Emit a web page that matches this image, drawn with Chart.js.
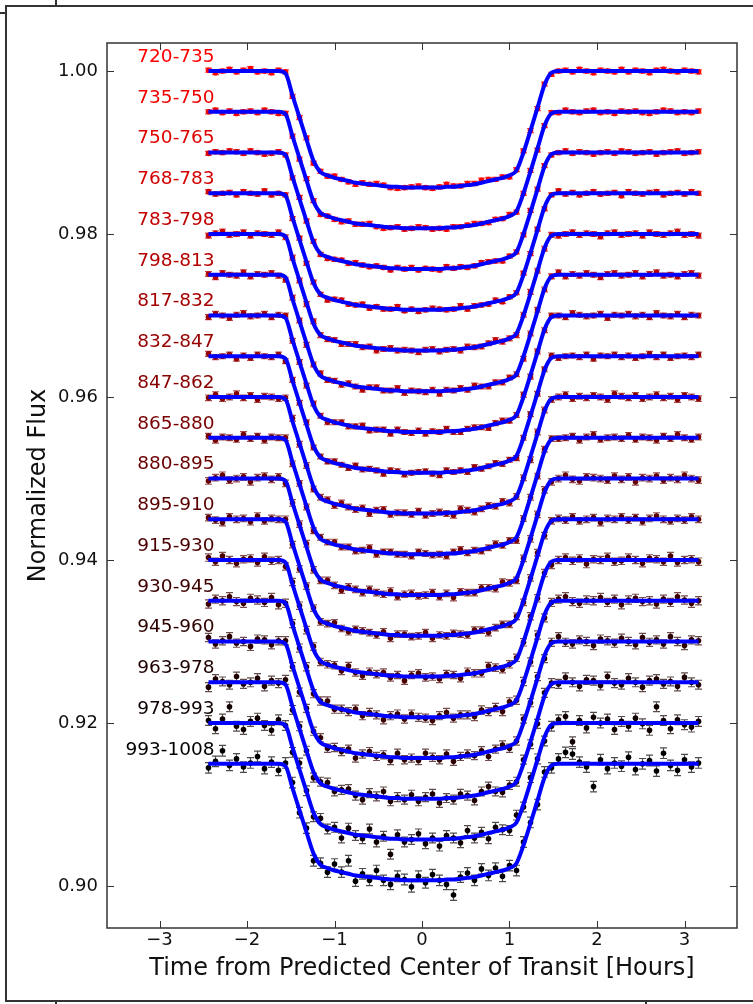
<!DOCTYPE html>
<html>
<head>
<meta charset="utf-8">
<script src="https://cdn.jsdelivr.net/npm/chart.js@4.4.1/dist/chart.umd.min.js"></script>
<style>
  html, body { margin: 0; padding: 0; background: #fff; }
  #wrap { position: relative; width: 753px; height: 1004px; overflow: hidden; background: #fff; }
  #chart { position: absolute; left: 0; top: 0; }
  .rule { position: absolute; background: #333; }
</style>
</head>
<body>
<div id="wrap">
  <canvas id="chart" width="753" height="1004"></canvas>
  <!-- page frame around the figure -->
  <div class="rule" style="left:5px; top:5px; width:748px; height:1.5px;"></div>
  <div class="rule" style="left:5px; top:5px; width:1.5px; height:996px;"></div>
  <div class="rule" style="left:5px; top:1000px; width:748px; height:1.5px;"></div>
  <div class="rule" style="left:0; top:12px; width:5px; height:1.5px;"></div>
  <div class="rule" style="left:55px; top:0; width:1.5px; height:5px;"></div>
  <div class="rule" style="left:55px; top:1000px; width:1.5px; height:4px;"></div>
  <div class="rule" style="left:645px; top:1000px; width:1.5px; height:4px;"></div>
</div>
<script>
/* ─── Data ─────────────────────────────────────────────────────── */

const curveLabels = [
    '720-735', '735-750', '750-765', '768-783', '783-798', '798-813',
    '817-832', '832-847', '847-862', '865-880', '880-895', '895-910',
    '915-930', '930-945', '945-960', '963-978', '978-993', '993-1008'
];

// flux level of each light curve outside transit
const baselines = [
    1.000, 0.995, 0.990, 0.985, 0.980, 0.975,
    0.970, 0.965, 0.960, 0.955, 0.950, 0.945,
    0.940, 0.935, 0.930, 0.925, 0.920, 0.915
];

const curveColors = [
    '#ff0000', '#f00000', '#e10000', '#d20000', '#c30000', '#b40000',
    '#a50000', '#960000', '#870000', '#780000', '#690000', '#5a0000',
    '#4b0000', '#3c0000', '#2d0000', '#1e0000', '#0f0000', '#000000'
];

// error bar half-length per curve, in 1e-4 flux
const errors = [2.5, 2.5, 2.5, 2.5, 3, 3, 3, 3, 3.5, 3.5, 4, 4, 4.5, 5, 5, 5.5, 6, 6.5];

// observation times [hours]
const times = [
    -2.44, -2.36, -2.28, -2.20, -2.12, -2.04, -1.96, -1.88, -1.80, -1.72,
    -1.64, -1.56, -1.48, -1.40, -1.32, -1.24, -1.16, -1.08, -1.00, -0.92,
    -0.84, -0.76, -0.68, -0.60, -0.52, -0.44, -0.36, -0.28, -0.20, -0.12,
    -0.04, 0.04, 0.12, 0.20, 0.28, 0.36, 0.44, 0.52, 0.60, 0.68,
    0.76, 0.84, 0.92, 1.00, 1.08, 1.16, 1.24, 1.32, 1.40, 1.48,
    1.56, 1.64, 1.72, 1.80, 1.88, 1.96, 2.04, 2.12, 2.20, 2.28,
    2.36, 2.44, 2.52, 2.60, 2.68, 2.76, 2.84, 2.92, 3.00, 3.08,
    3.16
];

// transit model below the baseline at each time, in 1e-4 flux
const modelDip = [
    0, 0, 0, 0, 0, 0, 0, 0, 0, 0,
    0, -3, -30, -57, -84, -110, -124, -128, -131, -133,
    -135, -137, -138, -139, -140, -141, -142, -142, -143, -143,
    -143, -143, -143, -143, -142, -142, -141, -140, -139, -137,
    -135, -133, -131, -128, -122, -100, -73, -45, -17, -2,
    0, 0, 0, 0, 0, 0, 0, 0, 0, 0,
    0, 0, 0, 0, 0, 0, 0, 0, 0, 0,
    0
];

// measured minus model, in 1e-4 flux (one row per curve)
const residuals = [
    [1,-2,0,2,-1,1,3,-1,0,-2, 1,2,-1,0,2,-3,1,-1,2,0, -1,-2,1,0,2,1,-1,-2,0,1, 2,0,-1,1,3,1,0,2,1,3, 2,0,1,-2,1,2,0,-1,1,-2, 0,1,-1,2,0,-2,1,0,-1,2, -1,1,0,-2,1,2,0,-1,1,0, -1],
    [0,2,-1,1,-2,0,1,-1,2,0, -2,1,0,-1,2,1,-2,0,-1,-2, 1,-1,0,2,-1,-2,0,1,-1,0, 2,1,-1,0,-2,1,0,1,2,0, -1,1,0,2,-1,0,1,-2,0,1, -1,2,0,-1,1,2,-1,0,-2,1, 0,1,-1,-2,0,2,1,-1,0,-1, 1],
    [-1,1,0,2,1,-1,2,0,-2,-1, 1,0,-1,2,0,1,-1,-2,0,1, -1,2,0,-1,1,0,-2,1,0,2, -1,1,0,-1,2,0,1,-1,0,2, 1,0,-2,1,0,-1,2,0,1,-1, 0,2,-1,1,0,-2,0,1,-1,2, 1,-1,0,1,-2,0,1,2,-1,0, 1],
    [2,-1,0,1,-2,2,0,-1,3,-2, 0,1,-1,2,-2,1,0,-3,1,2, -1,0,2,-2,1,-1,0,3,-1,1, -2,0,2,1,-1,0,3,-2,1,0, -1,2,-2,1,0,2,-1,1,-2,0, 3,-1,1,-2,0,2,-1,0,1,-3, 2,0,-1,1,2,-2,0,1,-1,2, 0],
    [-2,1,3,-1,0,2,-2,1,0,-1, 2,-1,1,0,-2,3,0,-1,1,-2, 0,2,-1,1,-3,0,2,-1,1,0, -2,1,2,-1,0,1,-2,2,0,-1, 1,3,-1,0,-2,1,2,0,-1,1, -2,0,2,-1,1,0,-3,1,2,-1, 0,1,-2,2,0,-1,1,3,-1,0, -2],
    [1,-3,2,0,-1,3,-2,1,0,2, -1,-3,2,1,-2,0,3,-1,1,-2, 2,0,-3,1,2,-1,0,3,-2,1, 0,-1,2,-3,1,0,2,-1,3,0, -2,1,-1,2,0,-3,1,2,-1,0, 3,-2,1,-1,2,0,-3,1,2,-1, 0,2,-2,1,3,-1,0,-2,1,2, -1],
    [-2,2,0,-3,1,3,-1,0,2,-2, 1,3,-1,0,-2,2,1,-3,0,2, -1,1,3,-2,0,1,-3,2,0,-1, 2,-2,1,0,3,-1,-2,1,2,0, -3,1,2,-1,0,3,-2,1,-1,2, 0,-2,3,1,-1,0,2,-3,1,0, 2,-1,1,-2,3,0,-1,2,-2,1, 0],
    [3,-1,0,2,-3,1,-2,2,0,-1, 2,-3,1,0,3,-2,1,-1,2,0, -2,3,-1,1,0,-3,2,1,-2,0, 1,2,-1,-3,2,0,1,-2,3,-1, 0,2,-1,1,-3,0,2,-1,1,3, -2,0,1,-1,2,-3,1,0,2,-1, 1,-2,0,3,-1,2,-2,0,1,-1, 2],
    [-1,3,-2,0,4,-1,2,-3,1,0, -2,2,4,-1,0,-3,1,2,-2,3, 0,-1,2,-4,1,3,-2,0,1,-1, 3,-2,0,2,-1,-3,4,1,-2,0, 2,-1,3,-2,0,1,-4,2,1,-1, 0,3,-2,1,-1,2,0,-3,4,1, -1,2,-2,0,3,-1,1,-3,2,0, -2],
    [2,-3,1,0,-2,4,-1,2,-3,1, 0,3,-2,1,-1,-4,2,0,3,-1, 1,-2,0,4,-3,1,2,-1,0,-2, 3,1,-1,0,-3,2,4,-1,1,-2, 0,3,-1,2,-4,1,0,-2,3,1, -1,0,2,-3,1,4,-2,0,1,-1, 3,-2,1,0,-3,2,-1,4,0,-2, 1],
    [-3,1,4,-2,0,2,-4,1,3,-1, 2,-3,0,1,4,-2,-1,3,0,-4, 2,1,-2,3,0,-1,4,-3,1,2, -1,0,3,-2,1,-4,2,0,-1,3, 1,-2,4,0,-3,2,-1,1,3,-2, 0,4,-1,-3,2,1,0,-2,3,-1, 2,-4,1,0,3,-2,1,-1,4,0, -2],
    [2,-1,-4,3,0,1,-3,4,-2,1, 0,3,-1,-4,2,1,-2,0,4,-1, -3,2,1,0,-2,3,-4,1,2,-1, 0,4,-3,1,-1,2,0,-2,3,1, -4,0,2,-1,3,-2,1,4,-3,0, 1,-1,3,-2,0,2,-4,1,0,3, -1,2,-3,1,4,0,-2,1,-1,3, 0],
    [3,-2,5,0,-4,1,2,-3,4,-1, 0,-5,3,1,-2,4,-1,0,2,-3, 5,-1,-4,2,0,3,-2,1,-5,2, 4,-1,0,-3,2,1,-4,3,0,-2, 5,1,-3,0,2,-1,4,-2,1,-4, 0,3,-1,2,-5,1,0,4,-2,-1, 3,0,-4,2,1,-2,5,-3,0,1, -2],
    [-4,2,0,5,-1,-3,3,1,-2,4, -5,0,2,-1,3,-4,1,5,-2,0, -1,4,-3,2,0,-5,1,3,-2,4, 0,-1,-4,2,5,-2,1,0,-3,3, -1,2,-5,4,0,1,-2,3,-4,0, 2,5,-1,-3,1,0,4,-2,2,-5, 1,3,-1,0,-4,2,-2,5,1,-3, 0],
    [5,-3,1,6,-2,0,-6,3,2,-4, 1,4,-1,-5,2,0,6,-3,1,-2, 3,-6,0,4,-1,2,-4,5,-2,0, -3,6,1,-2,4,-5,0,2,-1,3, -6,1,4,-3,0,5,-2,2,-4,1, 6,-1,-3,2,0,-5,3,1,-2,4, 0,-4,5,-1,2,-3,6,0,-5,2, 1],
    [-6,4,1,-3,7,-2,0,5,-5,2, -1,6,-4,3,0,-7,2,5,-3,1, 4,-2,-6,3,0,7,-4,1,-1,5, -3,2,6,-5,0,-2,4,1,-6,3, 7,-1,-4,2,0,5,-3,-6,4,1, -2,6,0,-5,3,2,-4,7,-1,-3, 5,0,-6,2,4,-2,1,-5,6,0, -3],
    [3,-7,5,20,-4,-8,2,6,-3,-9, 4,0,-6,8,1,-5,7,-2,3,-8, 6,-1,-4,9,-6,2,-19,5,-3,0, 7,-5,2,-8,4,1,-6,8,-2,3, -7,5,0,-4,9,-3,6,1,-5,-2, 4,8,-23,3,-6,7,0,5,-8,2, -4,6,-1,-9,20,3,-7,4,-2,-5, 2],
    [-5,3,16,-2,6,-4,1,9,-6,2, -8,4,7,-3,5,-9,2,-5,8,0, 16,-7,3,-4,9,-2,-6,4,1,-8, 5,-3,7,0,-6,-19,2,6,-4,8, -2,5,-7,3,-9,4,1,-5,7,-3, 6,14,12,2,-4,-28,5,-6,1,-3, 8,-7,0,4,-9,13,-2,-8,5,-4, 1]
];

const xTicks = [-3, -2, -1, 0, 1, 2, 3];
const yTicks = [0.90, 0.92, 0.94, 0.96, 0.98, 1.00];

/* ─── Chart ────────────────────────────────────────────────────── */

const FONT = '"DejaVu Sans", "Liberation Sans", sans-serif';
const LABEL_T = -2.37;      // right edge of the curve labels [hours]
const LABEL_DY = 0.0017;    // labels sit a little above their baseline

function withAlpha(hex, a) {
    const n = parseInt(hex.slice(1), 16);
    return `rgba(${n >> 16},${(n >> 8) & 255},${n & 255},${a})`;
}

const datasets = [];
curveLabels.forEach((name, i) => {
    const base = baselines[i];
    datasets.push({
        type: 'line',
        label: name + ' model',
        data: times.map((t, j) => ({ x: t, y: base + modelDip[j] * 1e-4 })),
        borderColor: '#0000ff',
        borderWidth: 4,
        pointRadius: 0,
        cubicInterpolationMode: 'monotone',
        fill: false,
        order: 0,
    });
    datasets.push({
        type: 'scatter',
        label: name,
        data: times.map((t, j) => ({ x: t, y: base + (modelDip[j] + (residuals[i][j] || 0)) * 1e-4 })),
        backgroundColor: curveColors[i],
        borderWidth: 0,
        pointRadius: 2.8,
        order: 1,
        curveIndex: i,
    });
});

// error bars, curve labels, frame and inward ticks
const lightCurvePlugin = {
    id: 'lightCurve',
    beforeDatasetsDraw(chart) {
        const { ctx, scales: { x, y } } = chart;
        ctx.save();
        ctx.lineWidth = 1.2;
        chart.data.datasets.forEach(ds => {
            if (ds.curveIndex === undefined) return;
            const err = errors[ds.curveIndex] * 1e-4;
            ctx.strokeStyle = withAlpha(curveColors[ds.curveIndex], 0.7);
            ctx.beginPath();
            ds.data.forEach(p => {
                const px = x.getPixelForValue(p.x);
                const y1 = y.getPixelForValue(p.y + err);
                const y2 = y.getPixelForValue(p.y - err);
                ctx.moveTo(px, y1); ctx.lineTo(px, y2);
                ctx.moveTo(px - 3.5, y1); ctx.lineTo(px + 3.5, y1);
                ctx.moveTo(px - 3.5, y2); ctx.lineTo(px + 3.5, y2);
            });
            ctx.stroke();
        });
        ctx.restore();
    },
    afterDatasetsDraw(chart) {
        const { ctx, scales: { x, y } } = chart;
        ctx.save();
        ctx.font = '18.5px ' + FONT;
        ctx.textAlign = 'right';
        ctx.textBaseline = 'middle';
        curveLabels.forEach((name, i) => {
            ctx.fillStyle = curveColors[i];
            ctx.fillText(name, x.getPixelForValue(LABEL_T), y.getPixelForValue(baselines[i] + LABEL_DY));
        });
        ctx.restore();
    },
    afterDraw(chart) {
        const { ctx, chartArea: a, scales: { x, y } } = chart;
        const len = 7;
        ctx.save();
        ctx.strokeStyle = '#333';
        ctx.lineWidth = 1.5;
        ctx.strokeRect(a.left, a.top, a.right - a.left, a.bottom - a.top);
        ctx.lineWidth = 1;
        ctx.beginPath();
        xTicks.forEach(v => {
            const px = Math.round(x.getPixelForValue(v)) + 0.5;
            ctx.moveTo(px, a.bottom); ctx.lineTo(px, a.bottom - len);
            ctx.moveTo(px, a.top); ctx.lineTo(px, a.top + len);
        });
        yTicks.forEach(v => {
            const py = Math.round(y.getPixelForValue(v)) + 0.5;
            ctx.moveTo(a.left, py); ctx.lineTo(a.left + len, py);
            ctx.moveTo(a.right, py); ctx.lineTo(a.right - len, py);
        });
        ctx.stroke();
        ctx.restore();
    }
};

new Chart(document.getElementById('chart'), {
    type: 'scatter',
    data: { datasets },
    plugins: [lightCurvePlugin],
    options: {
        responsive: false,
        animation: false,
        devicePixelRatio: 1,
        layout: { padding: { left: 0, top: 43, right: 16, bottom: 0 } },
        plugins: {
            legend: { display: false },
            tooltip: { enabled: false },
        },
        scales: {
            x: {
                type: 'linear',
                min: -3.6,
                max: 3.6,
                afterFit: s => { s.height = 76; },
                afterBuildTicks: s => { s.ticks = xTicks.map(v => ({ value: v })); },
                grid: { display: false, drawTicks: false },
                border: { display: false },
                ticks: {
                    padding: 2,
                    color: '#111',
                    font: { family: FONT, size: 18 },
                    callback: v => (v < 0 ? '\u2212' + Math.abs(v) : String(v)),
                },
                title: {
                    display: true,
                    text: 'Time from Predicted Center of Transit [Hours]',
                    color: '#111',
                    font: { family: FONT, size: 24 },
                    padding: { top: 0, bottom: 21 },
                },
            },
            y: {
                type: 'linear',
                min: 0.89485,
                max: 1.00344,
                afterFit: s => { s.width = 107; },
                afterBuildTicks: s => { s.ticks = yTicks.map(v => ({ value: v })); },
                grid: { display: false, drawTicks: false },
                border: { display: false },
                ticks: {
                    padding: 9,
                    color: '#111',
                    font: { family: FONT, size: 18 },
                    callback: v => v.toFixed(2),
                },
                title: {
                    display: true,
                    text: 'Normalized Flux',
                    color: '#111',
                    font: { family: FONT, size: 24 },
                    padding: { top: 24, bottom: 0 },
                },
            },
        },
    },
});
</script>
</body>
</html>
